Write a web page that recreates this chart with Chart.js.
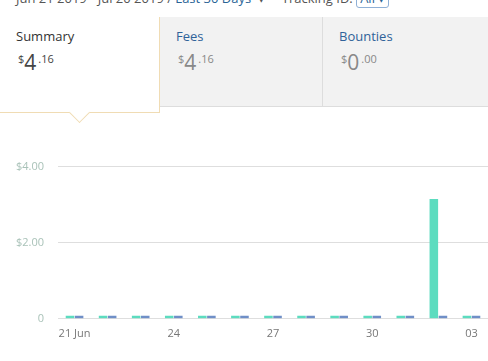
<!DOCTYPE html>
<html>
<head>
<meta charset="utf-8">
<script src="https://cdn.jsdelivr.net/npm/chart.js@4"></script>
<style>
  body { margin: 0; width: 488px; height: 361px; overflow: hidden; background: #fff; font-family: "Open Sans", Arial, sans-serif; position: relative; }
  .top { position: absolute; left: 16px; top: -11px; font-size: 13px; color: #555; white-space: nowrap; }
  .top a { color: #2a6496; }
  .top .box { border: 1px solid #8fb0d6; border-radius: 3px; padding: 0 3px; }
  .tab { position: absolute; top: 17px; height: 90px; box-sizing: border-box; }
  .t1 { left: 0; width: 160px; height: 96px; background: #fff; border-right: 1px solid #f0dcb4; border-bottom: 1px solid #f0dcb4; z-index: 2; }
  .t2 { left: 160px; width: 162px; background: #f2f2f2; border-bottom: 1px solid #ddd; }
  .t3 { left: 322px; width: 166px; background: #f2f2f2; border-left: 1px solid #ddd; border-bottom: 1px solid #ddd; }
  .name { position: absolute; left: 16px; top: 10px; font-size: 13px; color: #333; }
  .t2 .name, .t3 .name { color: #2f6299; }
  .amt { position: absolute; left: 18px; top: 31px; color: #888; white-space: nowrap; }
  .t1 .amt { color: #444; }
  .amt .s { font-size: 11px; vertical-align: top; position: relative; top: 3px; }
  .amt .b { font-size: 21px; }
  .amt .c { font-size: 11px; vertical-align: top; position: relative; top: 3px; margin-left: 2px; }
  .arrow { position: absolute; left: 72px; top: 105px; width: 14px; height: 14px; background: #fff; border-right: 1px solid #f0dcb4; border-bottom: 1px solid #f0dcb4; transform: rotate(45deg); z-index: 3; }
  #wrap { position: absolute; left: 0; top: 146px; width: 488px; height: 194px; }
</style>
</head>
<body>
<div class="top">Jun 21 2019 - Jul 20 2019 / <a>Last 30 Days</a> &nbsp;&#9662; &nbsp;&nbsp;&nbsp; Tracking ID: <a class="box">All &#9662;</a></div>
<div class="tab t1"><div class="name">Summary</div><div class="amt"><span class="s">$</span><span class="b">4</span><span class="c">.16</span></div></div>
<div class="arrow"></div>
<div class="tab t2"><div class="name">Fees</div><div class="amt"><span class="s">$</span><span class="b">4</span><span class="c">.16</span></div></div>
<div class="tab t3"><div class="name">Bounties</div><div class="amt"><span class="s">$</span><span class="b">0</span><span class="c">.00</span></div></div>
<div id="wrap"><canvas id="chart"></canvas></div>
<script>
const days = ['21 Jun', '22', '23', '24', '25', '26', '27', '28', '29', '30', '01', '02', '03'];
const fees = [0.08, 0.08, 0.08, 0.08, 0.08, 0.08, 0.08, 0.08, 0.08, 0.08, 0.08, 3.15, 0.08];
const bounties = [0.08, 0.08, 0.08, 0.08, 0.08, 0.08, 0.08, 0.08, 0.08, 0.08, 0.08, 0.08, 0.08];
const yTicks = [0, 2, 4];

new Chart(document.getElementById('chart').getContext('2d'), {
  type: 'bar',
  data: {
    labels: days,
    datasets: [
      { label: 'Fees', data: fees, backgroundColor: '#5cdcbf', barPercentage: 0.94, categoryPercentage: 0.55 },
      { label: 'Bounties', data: bounties, backgroundColor: '#6f8fc7', barPercentage: 0.94, categoryPercentage: 0.55 }
    ]
  },
  options: {
    responsive: true,
    maintainAspectRatio: false,
    animation: false,
    layout: { padding: { top: 8, right: 0, left: 0, bottom: 0 } },
    plugins: { legend: { display: false }, tooltip: { enabled: false } },
    scales: {
      x: {
        grid: { display: false },
        border: { display: false },
        ticks: {
          color: '#777',
          font: { family: 'Open Sans', size: 11 },
          maxRotation: 0,
          autoSkip: false,
          padding: 0,
          callback: (v, i) => (i % 3 === 0 ? days[i] : '')
        }
      },
      y: {
        min: 0,
        max: 4,
        afterBuildTicks: (axis) => { axis.ticks = yTicks.map((v) => ({ value: v })); },
        afterFit: (axis) => { axis.width = 58; },
        grid: { color: '#dedede', drawTicks: false },
        border: { display: false },
        ticks: {
          color: '#a9c2b8',
          font: { family: 'Open Sans', size: 11 },
          padding: 14,
          callback: (v) => (v === 0 ? '0' : '$' + v.toFixed(2))
        }
      }
    }
  }
});
</script>
</body>
</html>
